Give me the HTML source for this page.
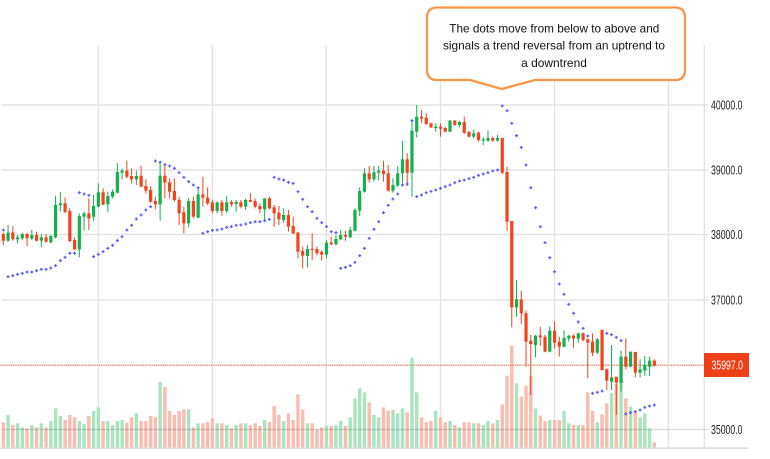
<!DOCTYPE html>
<html><head><meta charset="utf-8"><style>
html,body{margin:0;padding:0;background:#fff;width:770px;height:459px;overflow:hidden}
svg{display:block}
text{font-family:"Liberation Sans",Arial,sans-serif}
</style></head><body>
<svg id="c" width="770" height="459" viewBox="0 0 770 459" xmlns="http://www.w3.org/2000/svg">
<rect x="0" y="0" width="770" height="459" fill="#fff"/>
<g stroke="#e3e3e3" stroke-width="1.4">
 <line x1="2" y1="105" x2="708" y2="105"/>
 <line x1="2" y1="170" x2="708" y2="170"/>
 <line x1="2" y1="234.5" x2="708" y2="234.5"/>
 <line x1="2" y1="300" x2="708" y2="300"/>
 <line x1="2" y1="365" x2="708" y2="365"/>
 <line x1="98.3" y1="45" x2="98.3" y2="448"/>
 <line x1="212.3" y1="45" x2="212.3" y2="448"/>
 <line x1="326.3" y1="45" x2="326.3" y2="448"/>
 <line x1="440.5" y1="45" x2="440.5" y2="448"/>
 <line x1="554.5" y1="45" x2="554.5" y2="448"/>
 <line x1="668.3" y1="45" x2="668.3" y2="448"/>
 <line x1="704.3" y1="45" x2="704.3" y2="448"/>
</g>
<g id="vol"></g>
<line x1="2" y1="429.5" x2="708" y2="429.5" stroke="rgba(0,0,0,0.13)" stroke-width="1.4"/>
<line x1="0" y1="448.2" x2="748" y2="448.2" stroke="#dcdcdc" stroke-width="1.6"/>
<line x1="0" y1="365.2" x2="704" y2="365.2" stroke="#f1441d" stroke-width="1" stroke-dasharray="1,1.2" opacity="0.85"/>
<g id="cg"></g>
<g id="dg"></g>
<g fill="#222" font-size="12.5">
 <text x="711" y="109.5" textLength="31.5" lengthAdjust="spacingAndGlyphs">40000.0</text>
 <text x="711" y="174.5" textLength="31.5" lengthAdjust="spacingAndGlyphs">39000.0</text>
 <text x="711" y="239" textLength="31.5" lengthAdjust="spacingAndGlyphs">38000.0</text>
 <text x="711" y="304.5" textLength="31.5" lengthAdjust="spacingAndGlyphs">37000.0</text>
 <text x="711" y="434" textLength="31.5" lengthAdjust="spacingAndGlyphs">35000.0</text>
</g>
<rect x="704" y="353" width="45" height="24" fill="#ef3f17"/>
<text x="711.5" y="369.5" font-size="12.5" fill="#fff" textLength="31.5" lengthAdjust="spacingAndGlyphs">35997.0</text>
<path d="M437,7.5 H675 Q685,7.5 685,17.5 V70 Q685,80 675,80 H535 L501.7,89 L470,80 H437 Q427,80 427,70 V17.5 Q427,7.5 437,7.5 Z" fill="#fff" stroke="#f79646" stroke-width="2.3" stroke-linejoin="round"/>
<g fill="#111" font-size="12" text-anchor="middle">
 <text x="554.3" y="32.3" textLength="210" lengthAdjust="spacingAndGlyphs">The dots move from below to above and</text>
 <text x="554" y="49.5" textLength="222" lengthAdjust="spacingAndGlyphs">signals a trend reversal from an uptrend to</text>
 <text x="554" y="66.8" textLength="65.7" lengthAdjust="spacingAndGlyphs">a downtrend</text>
</g>
</svg>
<script>
var A=[
[0,252,272,248,285,817,240],[1,248,272,225,275,795,380],[0,247,268,228,272,825,377],[1,262,268,255,280,820,373],
[1,252,265,248,270,832,370],[0,252,265,248,288,835,366],[1,255,266,240,270,825,366],[0,255,272,245,275,832,362],
[1,262,272,252,292,820,358],[0,262,275,252,278,832,358],[1,258,277,255,280,813,354],[1,165,262,138,265,775,347],
[1,160,166,126,185,798,332],[0,160,186,142,190,810,322],[0,183,273,175,276,795,310],[0,270,298,262,300,802,310],
[1,198,298,190,322,813,128],[1,190,200,185,242,822,132],[0,190,205,145,240,798,136],[1,168,200,135,212,783,320],
[1,127,170,100,172,772,313],[0,127,164,115,165,813,305],[1,138,163,125,186,813,295],[1,125,140,118,145,825,286],
[1,66,128,40,130,813,272],[1,62,68,55,88,810,260],[0,62,80,32,85,818,240],[0,78,88,55,100,802,226],
[1,78,88,62,105,790,207],[0,77,110,47,112,813,195],[0,108,122,88,130,813,180],[0,120,155,108,158,798,170],
[0,153,163,140,178,802,33],[1,77,163,35,212,696,37],[0,77,98,45,145,711,44],[0,97,125,85,145,783,48],
[0,123,150,85,155,795,55],[0,150,190,140,225,783,68],[0,187,220,170,250,778,82],[1,153,220,145,232,778,95],
[0,153,200,140,205,832,105],[1,133,203,112,205,820,113],[0,133,143,80,170,820,250],[0,143,160,112,165,816,245],
[0,157,183,150,190,805,241],[1,157,183,155,190,820,240],[0,157,183,150,197,820,237],[1,157,183,138,190,825,232],
[0,156,163,150,170,835,230],[1,156,162,150,185,825,226],[0,157,170,150,175,820,225],[1,150,170,145,180,820,222],
[0,150,155,130,157,825,218],[0,153,170,145,175,820,215],[0,168,178,160,190,828,215],[1,145,178,145,210,810,212],
[0,145,175,140,178,816,208],[0,172,190,165,230,768,82],[0,188,208,168,225,795,87],[1,195,210,175,218,813,90],
[0,195,230,180,245,790,97],[0,228,250,200,252,810,100],[0,248,305,245,325,733,125],[0,303,317,290,355,778,148],
[1,297,318,285,352,820,170],[0,296,300,250,330,820,185],[0,297,310,290,316,838,205],[0,306,314,300,332,832,218],
[1,278,314,270,325,828,230]];
var B=[
[0,427,433,410,436,978,395],[1,417,433,405,436,975,398],[1,405,418,390,420,963,505],[0,405,410,392,422,978,502],
[1,390,412,380,415,952,497],[1,330,392,325,395,895,487],[1,273,332,262,348,865,467],[1,220,275,205,278,877,445],
[0,220,238,198,248,907,415],[1,217,238,198,245,945,388],[1,212,218,198,242,952,365],[0,212,222,182,245,922,338],
[0,220,272,195,275,932,316],[1,255,272,235,278,930,297],[1,220,257,198,260,940,282],[1,178,220,122,250,925,255],
[0,178,218,160,258,937,252],[1,92,218,60,290,773,62],[1,50,95,15,112,877,290],[0,50,56,30,70,952,285],
[0,53,72,40,75,967,278],[0,70,82,68,84,963,274],[1,80,84,70,95,933,270],[0,80,86,70,110,952,265],
[0,84,95,80,97,967,260],[1,62,95,60,97,963,255],[0,62,75,60,78,975,248],[1,66,75,62,82,982,243],
[0,66,98,50,102,967,240],[0,96,110,93,112,967,236],[1,100,110,88,115,970,232],[0,98,120,95,125,970,226],
[1,118,122,112,135,975,222],[1,114,122,92,125,963,218],[0,114,122,110,125,970,213],[1,114,122,105,125,960,210],
[0,114,218,114,222,913,18],[0,216,365,200,392,827,32],[0,363,622,363,682,737,70],[1,598,622,540,650,850,107],
[0,598,640,572,672,890,142],[0,640,725,632,800,857,195],[0,722,732,705,885,827,263],[1,707,735,705,772,925,323],
[0,706,712,680,738,947,380],[0,710,755,705,757,963,428],[1,692,755,680,757,960,473],[0,692,728,665,745,960,515],
[0,725,740,710,770,960,552],[1,714,740,690,742,933,583],[1,707,716,705,725,970,613],[0,707,716,703,743,975,640],
[1,700,716,698,728,975,666],[0,700,720,698,725,975,685],[0,718,728,715,835,877,708],[0,725,758,700,768,933,880],
[1,718,758,715,762,967,877],[0,690,810,688,812,943,873],[0,808,842,805,870,910,700],[1,832,845,735,870,880,704],
[0,830,848,832,945,852,712],[1,770,848,752,875,843,722],[0,770,800,715,808,895,942],[1,755,800,755,802,920,938],
[0,756,818,755,832,935,935],[1,808,818,778,832,952,930],[1,795,812,768,828,940,922],[1,782,800,770,828,985,918],
[0,782,797,778,800,1027,915]];
var NS='http://www.w3.org/2000/svg';
function el(p,t,a){var e=document.createElementNS(NS,t);for(var k in a)e.setAttribute(k,a[k]);p.appendChild(e);return e;}
var data=[];
A.forEach(function(d){data.push([d[0],150+d[1]/3,150+d[2]/3,150+d[3]/3,150+d[4]/3,150+d[5]/3,150+d[6]/3]);});
B.forEach(function(d){data.push([d[0],100+d[1]/3,100+d[2]/3,100+d[3]/3,100+d[4]/3,100+d[5]/3,100+d[6]/3]);});
var vg=document.getElementById('vol'),cg=document.getElementById('cg'),dg=document.getElementById('dg');
data.forEach(function(d,i){
 var x=3.3+4.752*i;
 var col=d[0]?'#13b04d':'#f1441d';
 var vcol=d[0]?'#a8e4bf':'#f9bcae';
 el(vg,'rect',{x:x-1.7,y:d[5],width:3.4,height:Math.max(0,448-d[5]),fill:vcol});
 el(cg,'rect',{x:x-0.5,y:d[3],width:1,height:Math.max(0.5,d[4]-d[3]),fill:col});
 el(cg,'rect',{x:x-1.6,y:d[1],width:3.2,height:Math.max(1.3,d[2]-d[1]),fill:col});
 var s=d[6];
 el(dg,'rect',{x:x-1.5,y:s-0.6,width:3,height:1.2,fill:'#5a5aff'});
 el(dg,'rect',{x:x-0.6,y:s-1.5,width:1.2,height:3,fill:'#5a5aff'});
});
</script>
</body></html>
